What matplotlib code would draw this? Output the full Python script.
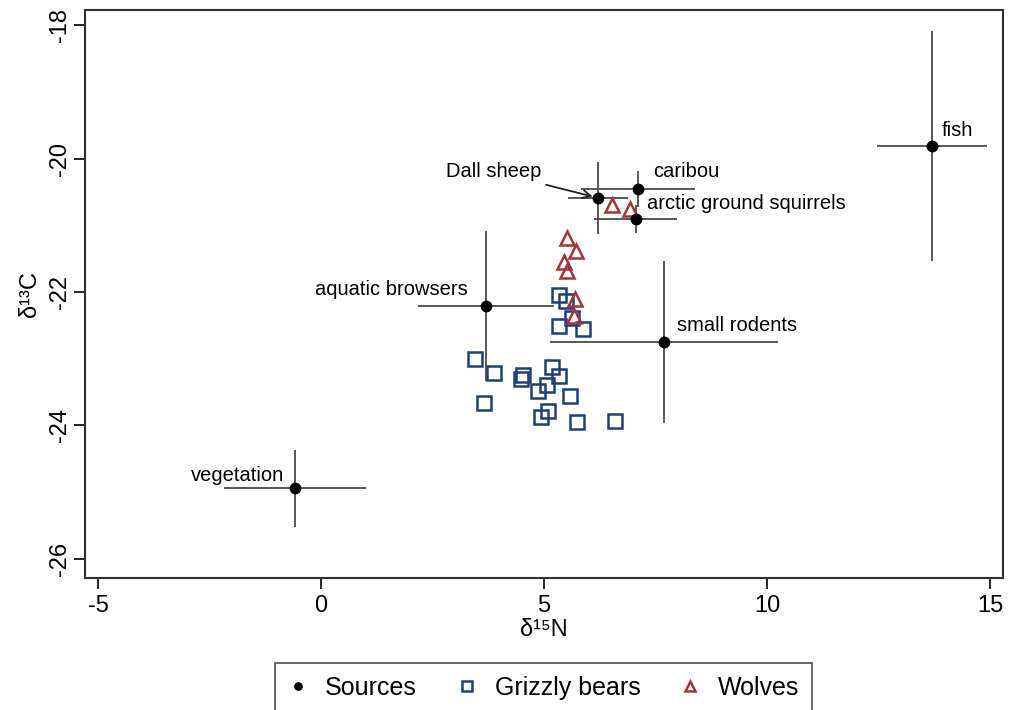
import matplotlib
matplotlib.use('Agg')
import matplotlib.pyplot as plt

plt.rcParams['font.family'] = ['Liberation Sans', 'DejaVu Sans']
plt.rcParams['axes.unicode_minus'] = False

# diet sources: mean and SD of d15N / d13C
src_names = ['fish', 'caribou', 'arctic ground squirrels', 'Dall sheep',
             'aquatic browsers', 'small rodents', 'vegetation']
src_n = [13.70, 7.11, 7.06, 6.21, 3.70, 7.69, -0.58]
src_c = [-19.81, -20.46, -20.91, -20.59, -22.21, -22.75, -24.94]
src_n_sd = [1.24, 1.28, 0.93, 0.67, 1.52, 2.56, 1.59]
src_c_sd = [1.72, 0.27, 0.21, 0.54, 1.13, 1.21, 0.58]

# grizzly bears
bear_n = [5.34, 5.49, 5.63, 5.34, 5.87, 3.45, 3.88, 4.53, 4.48, 5.18,
          5.34, 5.07, 4.87, 5.58, 3.65, 5.09, 4.93, 5.74, 6.59]
bear_c = [-22.04, -22.13, -22.39, -22.51, -22.55, -23.00, -23.21, -23.24,
          -23.30, -23.12, -23.26, -23.39, -23.48, -23.56, -23.66, -23.78,
          -23.87, -23.95, -23.93]

# wolves
wolf_n = [6.52, 6.93, 5.52, 5.72, 5.45, 5.52, 5.70, 5.67]
wolf_c = [-20.70, -20.76, -21.19, -21.39, -21.55, -21.69, -22.10, -22.36]

fig = plt.figure(figsize=(10.16, 7.10), dpi=100)
ax = fig.add_axes([0.0837, 0.1859, 0.9035, 0.80])

ax.errorbar(src_n, src_c, xerr=src_n_sd, yerr=src_c_sd, fmt='none',
            ecolor='#5a5652', elinewidth=1.4, capsize=0, zorder=1)
ax.plot(bear_n, bear_c, 's', ms=10, mfc='none', mec='#1f3f7a', mew=1.8,
        zorder=3, label='Grizzly bears')
ax.plot(wolf_n, wolf_c, '^', ms=10, mfc='none', mec='#a4343a', mew=1.8,
        zorder=3, label='Wolves')
ax.plot(src_n, src_c, 'o', ms=7.5, color='black', zorder=4, label='Sources')

# label offsets in points
offsets = {
    'fish': (7, 11, 'left'),
    'caribou': (11, 13, 'left'),
    'arctic ground squirrels': (8, 11, 'left'),
    'aquatic browsers': (-13, 12, 'right'),
    'small rodents': (9, 12, 'left'),
    'vegetation': (-8, 9, 'right'),
}
for name, xn, yc in zip(src_names, src_n, src_c):
    if name == 'Dall sheep':
        ax.annotate(name, (xn, yc), xytext=(-41, 19), textcoords='offset points',
                    ha='right', va='center', fontsize=14.5,
                    arrowprops=dict(arrowstyle='->', color='#222222', lw=1.3,
                                    shrinkA=3, shrinkB=4, mutation_scale=14))
        continue
    dx, dy, ha = offsets[name]
    ax.annotate(name, (xn, yc), xytext=(dx, dy), textcoords='offset points',
                ha=ha, va='center', fontsize=14.5)

ax.set_xlim(-5.29, 15.29)
ax.set_ylim(-26.285, -17.775)
ax.set_xticks([-5, 0, 5, 10, 15])
ax.set_yticks([-26, -24, -22, -20, -18])
ax.tick_params(direction='out', length=8, width=1.2, labelsize=17, pad=4)
ax.tick_params(axis='y', labelrotation=90, pad=2)
for lbl in ax.get_yticklabels():
    lbl.set_va('center')
for s in ax.spines.values():
    s.set_linewidth(1.5)
    s.set_color('#333333')

ax.set_xlabel('δ¹⁵N', fontsize=17, labelpad=2)
ax.set_ylabel('δ¹³C', fontsize=17, labelpad=6)

handles, labels = ax.get_legend_handles_labels()
order = [2, 0, 1]
leg = fig.legend([handles[i] for i in order], [labels[i] for i in order],
                 loc='upper center', bbox_to_anchor=(0.535, 0.066), ncol=3,
                 fontsize=18, frameon=True, fancybox=False, edgecolor='#333333',
                 handlelength=0.8, handletextpad=0.7, columnspacing=1.6,
                 borderpad=0.5, borderaxespad=0, markerscale=0.7)
leg.get_frame().set_linewidth(1.3)

fig.savefig('out.png', dpi=100)
